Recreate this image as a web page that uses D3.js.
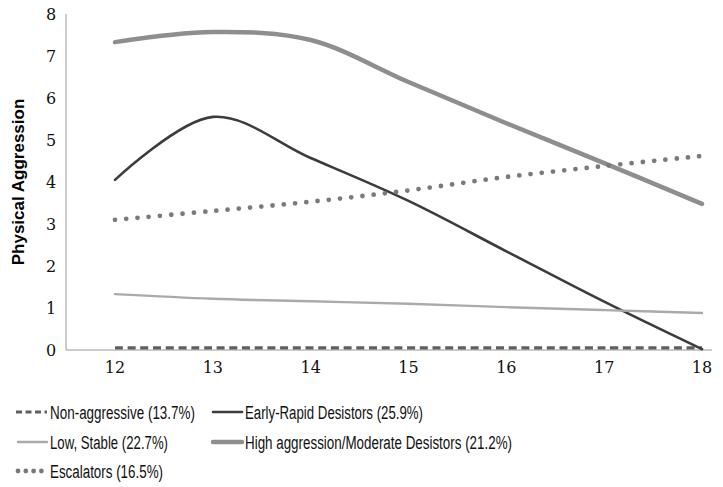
<!DOCTYPE html>
<html><head><meta charset="utf-8">
<script src="https://cdn.jsdelivr.net/npm/d3@7"></script>
<style>body{margin:0;background:#fff}
.tick{font-family:'DejaVu Serif','Liberation Serif',serif;}
</style>
</head><body>
<svg id="c" width="723" height="487"></svg>
<script>
const ages = [12, 13, 14, 15, 16, 17, 18];
const yTicks = [0, 1, 2, 3, 4, 5, 6, 7, 8];
const nonAggressive = [0.05, 0.05, 0.05, 0.05, 0.05, 0.05, 0.05];
const earlyRapid = [4.05, 5.55, 4.57, 3.55, 2.35, 1.15, 0.02];
const lowStable = [1.33, 1.22, 1.16, 1.10, 1.02, 0.95, 0.88];
const highAggression = [7.33, 7.57, 7.38, 6.38, 5.40, 4.45, 3.48];
const escalators = [3.10, 3.31, 3.53, 3.80, 4.12, 4.38, 4.62];
const seriesNames = ["Non-aggressive (13.7%)", "Early-Rapid Desistors (25.9%)", "Low, Stable (22.7%)", "High aggression/Moderate Desistors (21.2%)", "Escalators (16.5%)"];

const styles = [
  {color:"#5f5f5f", width:3.2, dash:"8 4.7", cap:"butt"},
  {color:"#3c3c3c", width:2.6, dash:null, cap:"round"},
  {color:"#aaaaaa", width:2.4, dash:null, cap:"round"},
  {color:"#8e8e8e", width:4.5, dash:null, cap:"round"},
  {color:"#7a7a7a", width:4.8, dash:"0 11.3", cap:"round"}
];
const series = [nonAggressive, earlyRapid, lowStable, highAggression, escalators];

const svg = d3.select("#c");
const x = d3.scaleLinear().domain([12, 18]).range([115, 702]);
const y = d3.scaleLinear().domain([0, 8]).range([350, 14]);

svg.append("line").attr("x1", 66).attr("x2", 66).attr("y1", 14).attr("y2", 350)
  .attr("stroke", "#9a9a9a").attr("stroke-width", 1);
svg.append("line").attr("x1", 66).attr("x2", 712).attr("y1", 350).attr("y2", 350)
  .attr("stroke", "#9a9a9a").attr("stroke-width", 1);

svg.append("g").selectAll("text").data(yTicks).join("text")
  .attr("class", "tick")
  .attr("x", 51).attr("y", d => y(d)).attr("dy", "0.36em")
  .attr("text-anchor", "middle")
  .attr("font-size", 16).attr("fill", "#111")
  .text(d => d);

svg.append("g").selectAll("text").data(ages).join("text")
  .attr("class", "tick")
  .attr("x", d => x(d)).attr("y", 373)
  .attr("text-anchor", "middle")
  .attr("font-size", 16).attr("fill", "#111")
  .text(d => d);

svg.append("text").attr("transform", "translate(24,182) rotate(-90)")
  .attr("text-anchor", "middle")
  .attr("font-family", "Liberation Sans, Arial, sans-serif").attr("font-weight", "bold")
  .attr("font-size", 17).attr("fill", "#000").text("Physical Aggression");

const line = d3.line().x((d, i) => x(ages[i])).y(d => y(d)).curve(d3.curveCatmullRom.alpha(0.5));

series.forEach((s, k) => {
  const st = styles[k];
  const p = svg.append("path").datum(s).attr("d", line)
    .attr("fill", "none").attr("stroke", st.color).attr("stroke-width", st.width)
    .attr("stroke-linecap", st.cap).attr("stroke-linejoin", "round");
  if (st.dash) p.attr("stroke-dasharray", st.dash);
});

const legendPos = [
  {lx:16, ly:412, tw:145},
  {lx:211, ly:412, tw:178},
  {lx:16, ly:442, tw:118},
  {lx:211, ly:442, tw:267},
  {lx:16, ly:471, tw:113}
];
seriesNames.forEach((name, k) => {
  const st = styles[k];
  const pos = legendPos[k];
  const l = svg.append("line").attr("x1", pos.lx + (st.cap==="round"?2:0)).attr("x2", pos.lx + 31)
    .attr("y1", pos.ly).attr("y2", pos.ly)
    .attr("stroke", st.color).attr("stroke-width", st.width).attr("stroke-linecap", st.cap);
  if (st.dash) l.attr("stroke-dasharray", st.dash === "0 11.3" ? "0 7.8" : "6 3.5");
  svg.append("text").attr("x", pos.lx + 34).attr("y", pos.ly + 6.5)
    .attr("font-family", "Liberation Sans, Arial, sans-serif")
    .attr("font-size", 18).attr("fill", "#111")
    .attr("textLength", pos.tw).attr("lengthAdjust", "spacingAndGlyphs")
    .text(name);
});
</script>
</body></html>
